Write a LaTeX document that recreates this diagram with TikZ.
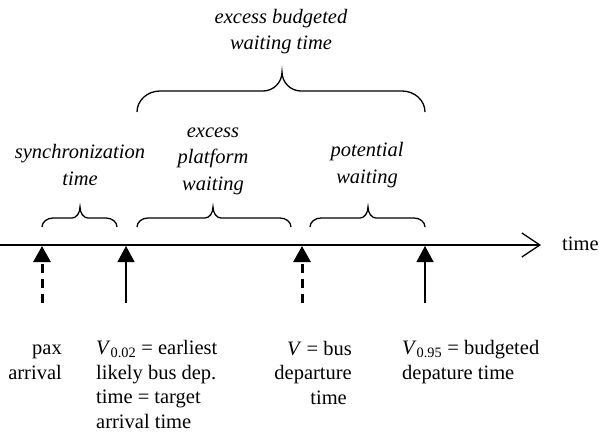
\documentclass[tikz,border=0pt]{standalone}
\usepackage{fontspec}
\setmainfont{Liberation Serif}
\usetikzlibrary{arrows.meta}
% brace: #1 x0, #2 x1, #3 xtip, #4 ytip, #5 ymid, #6 yend, #7 end radius, #8 tip radius
\newcommand{\mybrace}[8]{%
  \draw[bracestyle] (#1,#6) .. controls (#1,{#6-0.55*(#6-#5)}) and ({#1+0.45*#7},#5) .. ({#1+#7},#5)
    -- ({#3-#8},#5) .. controls ({#3-0.45*#8},#5) and (#3,{#4+0.55*(#5-#4)}) .. (#3,#4)
    .. controls (#3,{#4+0.55*(#5-#4)}) and ({#3+0.45*#8},#5) .. ({#3+#8},#5)
    -- ({#2-#7},#5) .. controls ({#2-0.45*#7},#5) and (#2,{#6-0.55*(#6-#5)}) .. (#2,#6);}
\begin{document}
\begin{tikzpicture}[x=1pt,y=-1pt,
  lbl/.style={font=\fontsize{20.5}{24.5}\selectfont, inner sep=0pt},
  ilbl/.style={font=\fontsize{20.5}{26.5}\selectfont\itshape, inner sep=0pt},
  axis/.style={line width=1.3pt, -{Straight Barb[length=18pt,width=24pt]}},
  eventarrow/.style={-{Triangle[length=16pt,width=17pt]}},
  solidev/.style={eventarrow, line width=1.2pt},
  dashev/.style={eventarrow, line width=3pt, dash pattern=on 9.5pt off 5.5pt},
  bracestyle/.style={line width=1.3pt}]
\useasboundingbox (0,0) rectangle (601,433);
% time axis
\coordinate (tl0) at (0,245);
\coordinate (tl1) at (541,245);
\draw[axis] (tl0) -- (tl1);
\node[lbl, anchor=base west] (timelbl) at (562,250) {time};
% event arrows
\coordinate (p1b) at (42,303);  \coordinate (p1t) at (42,246);
\coordinate (p2b) at (126,303); \coordinate (p2t) at (126,246);
\coordinate (p3b) at (302,303); \coordinate (p3t) at (302,246);
\coordinate (p4b) at (425,303); \coordinate (p4t) at (425,246);
\draw[dashev] (p1b) -- (p1t);
\draw[solidev] (p2b) -- (p2t);
\draw[dashev] (p3b) -- (p3t);
\draw[solidev] (p4b) -- (p4t);
% bottom labels (anchor = baseline of last line)
\node[lbl, align=right, anchor=base east] (paxlbl) at (62,379) {pax\\arrival};
\node[lbl, align=left, anchor=base west] (v002lbl) at (96,428) {\textit{V}\textsubscript{0.02} = earliest\\likely bus dep.\\time = target\\arrival time};
\node[lbl, align=right, anchor=base east] (vlbl) at (352,404) {\textit{V} = bus\\departure\\time\hspace*{5pt}};
\node[lbl, align=left, anchor=base west] (v095lbl) at (402,379) {\textit{V}\textsubscript{0.95} = budgeted\\depature time};
% braces
\mybrace{137}{425}{282}{72}{91}{112}{23}{19}
\mybrace{42}{117}{80}{207}{218}{227}{11}{8}
\mybrace{137}{291}{213}{207}{218}{227}{11}{8}
\mybrace{310}{425}{368}{207}{218}{227}{11}{8}
% top labels (anchor = baseline of last line)
\node[ilbl, align=center, anchor=base] (ebwt) at (281,50) {excess budgeted\\waiting time};
\node[ilbl, align=center, anchor=base] (sync) at (80,185) {synchronization\\time};
\node[ilbl, align=center, anchor=base] (epw) at (213,190) {excess\\platform\\waiting};
\node[ilbl, align=center, anchor=base] (potw) at (367,183) {potential\\waiting};
\end{tikzpicture}
\end{document}
